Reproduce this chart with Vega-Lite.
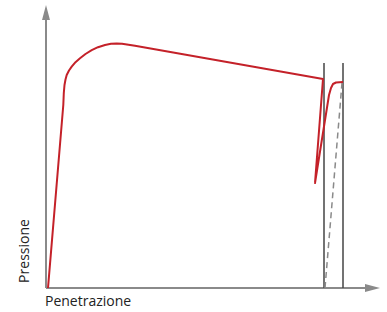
{
  "$schema": "https://vega.github.io/schema/vega-lite/v6.json",
  "width": 387,
  "height": 312,
  "autosize": {"type": "none"},
  "padding": 0,
  "background": "white",
  "config": {"view": {"stroke": null}},
  "datasets": {
    "curve": [
      {"i": 0, "x": 2, "y": 0},
      {"i": 1, "x": 17.3, "y": 183},
      {"i": 2, "x": 17.8, "y": 195},
      {"i": 3, "x": 18.5, "y": 203},
      {"i": 4, "x": 19.5, "y": 208.5},
      {"i": 5, "x": 20.7, "y": 213},
      {"i": 6, "x": 23, "y": 217.5},
      {"i": 7, "x": 25.7, "y": 221.3},
      {"i": 8, "x": 29.5, "y": 225.8},
      {"i": 9, "x": 34, "y": 229.7},
      {"i": 10, "x": 39.5, "y": 234},
      {"i": 11, "x": 45.7, "y": 237.8},
      {"i": 12, "x": 52, "y": 240.8},
      {"i": 13, "x": 59, "y": 243},
      {"i": 14, "x": 65, "y": 244.2},
      {"i": 15, "x": 70.7, "y": 244.6},
      {"i": 16, "x": 76, "y": 244.3},
      {"i": 17, "x": 89, "y": 242.2},
      {"i": 18, "x": 277, "y": 209},
      {"i": 19, "x": 269, "y": 105},
      {"i": 20, "x": 283, "y": 193},
      {"i": 21, "x": 285, "y": 200},
      {"i": 22, "x": 287, "y": 204},
      {"i": 23, "x": 290, "y": 205.5},
      {"i": 24, "x": 297, "y": 206}
    ],
    "dashed": [
      {"x": 279, "y": 0},
      {"x": 296, "y": 205}
    ],
    "verticals": [
      {"x": 278, "y": 0, "y2": 225},
      {"x": 297, "y": 0, "y2": 225}
    ],
    "yaxis": [{"x": 0, "y": 0, "y2": 272}],
    "xaxis": [{"x": 0, "x2": 326, "y": 0}],
    "yarrow": [{"x": 0, "y": 275.5}],
    "xarrow": [{"x": 326.5, "y": 0}],
    "ylabel": [{"x": -21, "y": 37, "t": "Pressione"}],
    "xlabel": [{"x": -1, "y": -14, "t": "Penetrazione"}]
  },
  "layer": [
    {
      "data": {"name": "yaxis"},
      "mark": {"type": "rule", "color": "#8a8a8a", "strokeWidth": 2},
      "encoding": {
        "x": {"field": "x", "type": "quantitative", "scale": {"domain": [-46, 341], "nice": false, "zero": false}, "axis": null},
        "y": {"field": "y", "type": "quantitative", "scale": {"domain": [-24, 288], "nice": false, "zero": false}, "axis": null},
        "y2": {"field": "y2"}
      }
    },
    {
      "data": {"name": "xaxis"},
      "mark": {"type": "rule", "color": "#8a8a8a", "strokeWidth": 2},
      "encoding": {
        "x": {"field": "x", "type": "quantitative"},
        "x2": {"field": "x2"},
        "y": {"field": "y", "type": "quantitative"}
      }
    },
    {
      "data": {"name": "yarrow"},
      "mark": {"type": "point", "shape": "M-0.53,1L0,-1L0.53,1Z", "size": 225, "filled": true, "color": "#8a8a8a", "opacity": 1},
      "encoding": {
        "x": {"field": "x", "type": "quantitative"},
        "y": {"field": "y", "type": "quantitative"}
      }
    },
    {
      "data": {"name": "xarrow"},
      "mark": {"type": "point", "shape": "M-1,-0.53L1,0L-1,0.53Z", "size": 225, "filled": true, "color": "#8a8a8a", "opacity": 1},
      "encoding": {
        "x": {"field": "x", "type": "quantitative"},
        "y": {"field": "y", "type": "quantitative"}
      }
    },
    {
      "data": {"name": "verticals"},
      "mark": {"type": "rule", "color": "#444444", "strokeWidth": 1.5},
      "encoding": {
        "x": {"field": "x", "type": "quantitative"},
        "y": {"field": "y", "type": "quantitative"},
        "y2": {"field": "y2"}
      }
    },
    {
      "data": {"name": "dashed"},
      "mark": {"type": "line", "color": "#8a8a8a", "strokeWidth": 1.5, "strokeDash": [6, 4]},
      "encoding": {
        "x": {"field": "x", "type": "quantitative"},
        "y": {"field": "y", "type": "quantitative"}
      }
    },
    {
      "data": {"name": "curve"},
      "mark": {"type": "line", "color": "#c42129", "strokeWidth": 2, "strokeJoin": "round"},
      "encoding": {
        "x": {"field": "x", "type": "quantitative"},
        "y": {"field": "y", "type": "quantitative"},
        "order": {"field": "i", "type": "quantitative"}
      }
    },
    {
      "data": {"name": "ylabel"},
      "mark": {"type": "text", "angle": 270, "align": "center", "baseline": "middle", "font": "Open Sans", "fontSize": 14, "color": "#222222"},
      "encoding": {
        "x": {"field": "x", "type": "quantitative"},
        "y": {"field": "y", "type": "quantitative"},
        "text": {"field": "t"}
      }
    },
    {
      "data": {"name": "xlabel"},
      "mark": {"type": "text", "align": "left", "baseline": "middle", "font": "Open Sans", "fontSize": 14, "color": "#222222"},
      "encoding": {
        "x": {"field": "x", "type": "quantitative"},
        "y": {"field": "y", "type": "quantitative"},
        "text": {"field": "t"}
      }
    }
  ]
}
